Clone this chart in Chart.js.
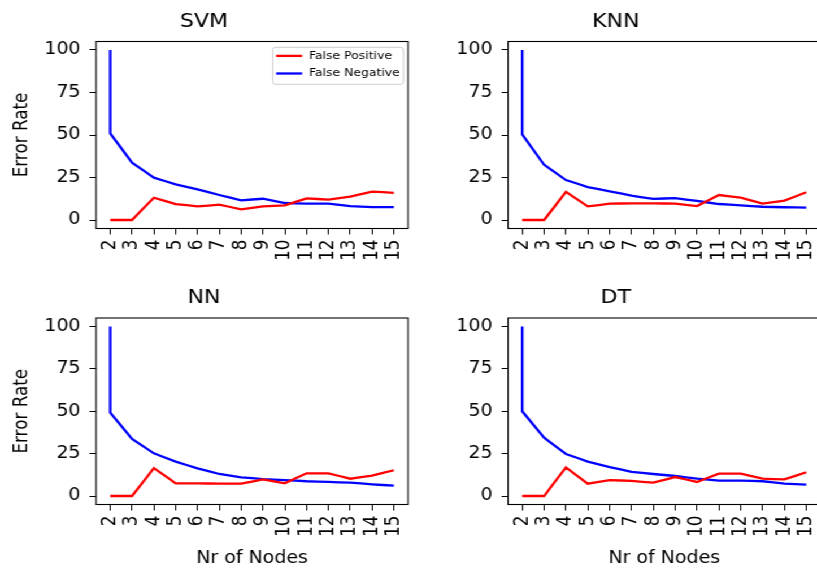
<!DOCTYPE html>
<html>
<head>
<meta charset="utf-8">
<script src="https://cdn.jsdelivr.net/npm/chart.js@4/dist/chart.umd.min.js"></script>
<style>
  html, body { margin: 0; padding: 0; background: #fff; overflow: hidden; }
  body { width: 817px; height: 568px; position: relative; }
  /* the figure is a bit wider than tall, so the whole grid is stretched sideways */
  #grid { position: absolute; left: 0; top: 0; width: 724px; height: 568px;
          transform: scaleX(1.13); transform-origin: 0 0; }
  #grid canvas { position: absolute; }
</style>
</head>
<body>
<div id="grid">
  <canvas id="svm" width="364" height="284" style="left:0px;top:0px"></canvas>
  <canvas id="knn" width="366" height="284" style="left:364px;top:0px"></canvas>
  <canvas id="nn" width="364" height="284" style="left:0px;top:284px"></canvas>
  <canvas id="dt" width="366" height="284" style="left:364px;top:284px"></canvas>
</div>
<script>
// number of nodes; the first run at 2 nodes is logged twice
const nodes = [2, 2, 3, 4, 5, 6, 7, 8, 9, 10, 11, 12, 13, 14, 15];
const nodeTicks = [2, 3, 4, 5, 6, 7, 8, 9, 10, 11, 12, 13, 14, 15];
const rateTicks = [0, 25, 50, 75, 100];
const seriesLabels = ["False Positive", "False Negative"];

const svmFalsePos = [0, 0, 0, 13.1, 9.4, 8, 9, 6.3, 8, 8.6, 12.7, 12, 13.7, 16.7, 16];
const svmFalseNeg = [100, 51, 33.7, 24.9, 21, 18, 14.7, 11.6, 12.5, 10, 9.6, 9.6, 8.2, 7.6, 7.6];

const knnFalsePos = [0, 0, 0, 16.5, 8, 9.6, 9.8, 9.8, 9.6, 8.2, 14.7, 13.1, 9.6, 11.4, 16.3];
const knnFalseNeg = [100, 50.4, 32.5, 23.5, 19.4, 16.9, 14.3, 12.4, 12.9, 11.2, 9.4, 8.6, 7.8, 7.5, 7.3];

const nnFalsePos = [0, 0, 0, 16.5, 7.5, 7.5, 7.3, 7.3, 9.8, 7.5, 13.4, 13.4, 10.2, 12, 15.2];
const nnFalseNeg = [100, 49.2, 33.7, 25.2, 20.3, 16.3, 13, 11, 10, 9.4, 8.7, 8.3, 7.9, 6.9, 6.1];

const dtFalsePos = [0, 0, 0, 16.9, 7.3, 9.4, 8.9, 7.9, 11.2, 8.3, 13.2, 13.2, 10.2, 9.8, 14];
const dtFalseNeg = [100, 50, 34.4, 24.8, 20.3, 17.1, 14.2, 13, 11.8, 10.2, 9.1, 9.1, 8.7, 7.3, 6.7];

const FONT = "DejaVu Sans";

// box around the whole axes (top and right spines included)
const framePlugin = {
  id: "frame",
  afterDatasetsDraw(chart) {
    const { ctx, chartArea: a } = chart;
    ctx.save();
    ctx.strokeStyle = "#000";
    ctx.lineWidth = 1.1;
    ctx.strokeRect(a.left, a.top, a.right - a.left, a.bottom - a.top);
    ctx.restore();
  },
};

// small legend drawn inside the upper right corner of the axes
const insetLegend = {
  id: "insetLegend",
  afterDraw(chart, args, opts) {
    if (!opts.display) return;
    const { ctx, chartArea: a } = chart;
    const w = 115.6, h = 37;
    const x = a.right - 4.1 - w, y = a.top + 5.8;
    ctx.save();
    ctx.fillStyle = "rgba(255,255,255,0.8)";
    ctx.strokeStyle = "#cccccc";
    ctx.lineWidth = 1;
    ctx.beginPath();
    ctx.roundRect(x, y, w, h, 2.5);
    ctx.fill();
    ctx.stroke();
    ctx.font = "11px '" + FONT + "'";
    ctx.textBaseline = "middle";
    chart.data.datasets.forEach((ds, i) => {
      const ly = y + 8.6 + i * 17.6;
      ctx.strokeStyle = ds.borderColor;
      ctx.lineWidth = ds.borderWidth;
      ctx.beginPath();
      ctx.moveTo(x + 3, ly);
      ctx.lineTo(x + 26, ly);
      ctx.stroke();
      ctx.fillStyle = "#000";
      ctx.fillText(ds.label, x + 32, ly);
    });
    ctx.restore();
  },
};

function toPoints(values) {
  return nodes.map((n, i) => ({ x: n, y: values[i] }));
}

function lineStyle(color) {
  // a hair of tension keeps chart.js off its fast path, which doubles up
  // the vertical stroke where two samples share the same x
  return { borderColor: color, borderWidth: 2.3, pointRadius: 0, tension: 0.00001,
           borderJoinStyle: "miter", fill: false };
}

function makePanel(id, title, falsePos, falseNeg, cfg) {
  new Chart(document.getElementById(id), {
    type: "line",
    data: {
      datasets: [
        { label: seriesLabels[0], data: toPoints(falsePos), ...lineStyle("#ff0000") },
        { label: seriesLabels[1], data: toPoints(falseNeg), ...lineStyle("#0000ff") },
      ],
    },
    plugins: [framePlugin, insetLegend],
    options: {
      responsive: false,
      animation: false,
      layout: { padding: { left: 0, right: cfg.padRight, top: 0, bottom: 0 } },
      plugins: {
        legend: { display: false },
        tooltip: { enabled: false },
        insetLegend: { display: cfg.legend },
        title: {
          display: true,
          text: title,
          color: "#000",
          font: { family: FONT, size: 19.5, weight: "normal", lineHeight: 1.2 },
          padding: { top: cfg.titleTop, bottom: 8 },
        },
      },
      scales: {
        x: {
          type: "linear",
          min: 1.35,
          max: 15.65,
          afterBuildTicks: (axis) => { axis.ticks = nodeTicks.map((v) => ({ value: v })); },
          afterFit: (axis) => {
            axis.height = cfg.xHeight;
            axis.paddingLeft = 0;
            axis.paddingRight = 0;
          },
          grid: { drawOnChartArea: false, drawTicks: true, tickLength: 6, color: "#000", lineWidth: 1 },
          border: { display: false },
          ticks: {
            autoSkip: false,
            minRotation: 90,
            maxRotation: 90,
            padding: 5,
            color: "#000",
            font: { family: FONT, size: 16.8 },
            callback: (v) => String(v),
          },
          title: {
            display: cfg.xTitle,
            text: "Nr of Nodes",
            color: "#000",
            font: { family: FONT, size: 16.8 },
            padding: { top: 0, bottom: -1 },
          },
        },
        y: {
          type: "linear",
          min: -5,
          max: 105,
          afterBuildTicks: (axis) => { axis.ticks = rateTicks.map((v) => ({ value: v })); },
          afterFit: (axis) => {
            axis.width = cfg.yWidth;
            axis.paddingTop = 0;
            axis.paddingBottom = 0;
          },
          grid: { drawOnChartArea: false, drawTicks: true, tickLength: 5.7, color: "#000", lineWidth: 1 },
          border: { display: false },
          ticks: {
            padding: 8,
            color: "#000",
            font: { family: FONT, size: 16.8 },
            callback: (v) => String(v),
          },
          title: {
            display: cfg.yTitle,
            text: "Error Rate",
            color: "#000",
            font: { family: FONT, size: 16.8 },
            padding: { top: 9.5, bottom: 0 },
          },
        },
      },
    },
  });
}

makePanel("svm", "SVM", svmFalsePos, svmFalseNeg,
  { legend: true, yTitle: true, xTitle: false, yWidth: 85, padRight: 2.9, titleTop: 10.1, xHeight: 55.5 });
makePanel("knn", "KNN", knnFalsePos, knnFalseNeg,
  { legend: false, yTitle: false, xTitle: false, yWidth: 85.6, padRight: 3.9, titleTop: 10.1, xHeight: 55.5 });
makePanel("nn", "NN", nnFalsePos, nnFalseNeg,
  { legend: false, yTitle: true, xTitle: true, yWidth: 85, padRight: 2.9, titleTop: 2.6, xHeight: 63.5 });
makePanel("dt", "DT", dtFalsePos, dtFalseNeg,
  { legend: false, yTitle: false, xTitle: true, yWidth: 85.6, padRight: 3.9, titleTop: 2.6, xHeight: 63.5 });
</script>
</body>
</html>
